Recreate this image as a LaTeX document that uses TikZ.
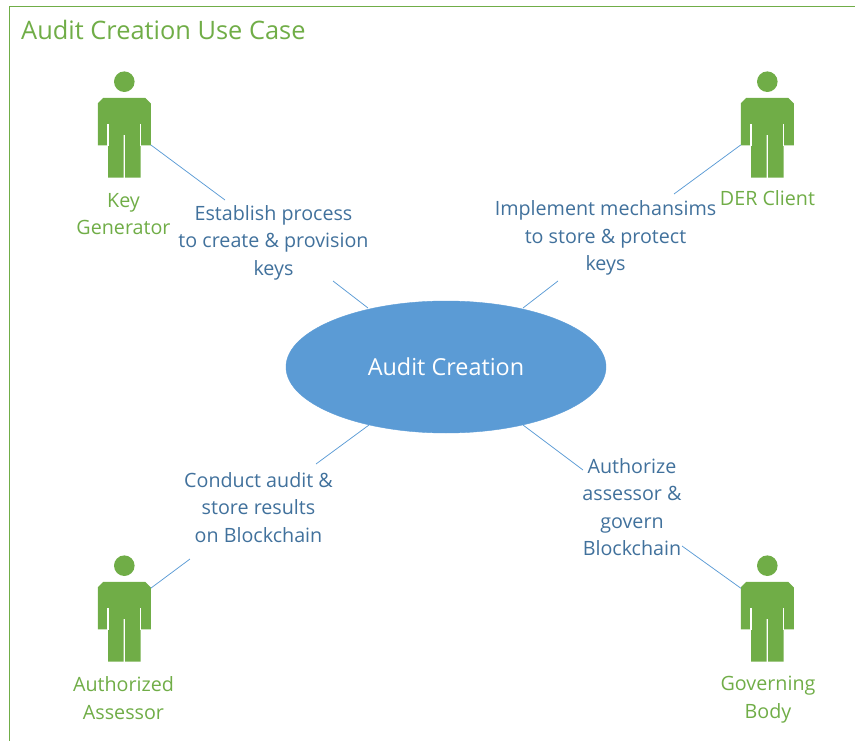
\documentclass[tikz,border=0pt]{standalone}
\usepackage{fontspec}
\setmainfont{Open Sans}
\usetikzlibrary{shapes.geometric}
\definecolor{frameG}{HTML}{70AD47}
\definecolor{txtB}{HTML}{41719C}
\definecolor{lineB}{HTML}{5B9BD5}
\tikzset{
  x=1pt,y=-1pt,
  conn/.style={draw=lineB,line width=0.75pt},
  lbl/.style={text=txtB,font=\fontsize{19.7}{27.4}\selectfont,align=center,inner sep=0pt},
  actorlbl/.style={text=frameG,font=\fontsize{19.7}{27.8}\selectfont,align=center,inner sep=0pt},
  usecase/.style={ellipse,fill=lineB,draw=lineB,minimum width=320pt,minimum height=132pt,inner sep=0pt,text=white,font=\fontsize{23.4}{28}\selectfont},
}
\newcommand{\actorshape}[3]{% name, cx, top of head y
  \begin{scope}[shift={(#2,#3)}]
    \fill[frameG] (0,10.3) circle (10.3);
    \fill[frameG] (-21,26.5)--(21,26.5)--(26.5,32)--(26.5,74)--(16.2,74)--(16.2,106.3)--(0.7,106.3)--(0.7,63.5)--(-0.7,63.5)--(-0.7,106.3)--(-16.2,106.3)--(-16.2,74)--(-26.5,74)--(-26.5,32)--cycle;
    \draw[white,line width=1.3pt] (-16.2,52.5)--(-16.2,74.5) (16.2,52.5)--(16.2,74.5);
    \coordinate (#1-l) at (-26.5,73.5);
    \coordinate (#1-r) at (26.5,73.5);
    \coordinate (#1-ls) at (-26.5,32.8);
    \coordinate (#1-rs) at (26.5,32.8);
  \end{scope}}
\begin{document}
\begin{tikzpicture}
\useasboundingbox (0,0) rectangle (855,741);
\draw[frameG,line width=1pt] (9.5,741)--(9.5,7)--(855,7);
\node[anchor=west,text=frameG,inner sep=0pt,font=\fontsize{25.4}{30}\selectfont] (title) at (21,30) {Audit Creation Use Case};
\actorshape{kg}{124.3}{71.4}
\actorshape{der}{767.3}{71.4}
\actorshape{aa}{124.3}{555.4}
\actorshape{gb}{767.3}{555.4}
\node[usecase] (uc) at (446,367) {Audit Creation};
\node[actorlbl] (kgl) at (123.5,214) {Key\\Generator};
\node[actorlbl] (derl) at (767.5,198) {DER Client};
\node[actorlbl] (aal) at (123.5,698) {Authorized\\Assessor};
\node[actorlbl] (gbl) at (768,700) {Governing\\Body};
\node[lbl] (e1) at (273.5,242.5) {Establish process\\to create \& provision\\keys};
\node[lbl] (e2) at (605.5,238) {Implement mechansims\\to store \& protect\\keys};
\node[lbl] (e3) at (258.5,507.5) {Conduct audit \&\\store results\\on Blockchain};
\node[lbl] (e4) at (632,507) {Authorize\\assessor \&\\govern\\Blockchain};
\coordinate (p1) at (225,200);
\coordinate (p2) at (333,281);
\coordinate (p3) at (368,308);
\coordinate (q1) at (674,194);
\coordinate (q2) at (523,308);
\coordinate (q3) at (558,281);
\coordinate (r1) at (369,425);
\coordinate (r3) at (316,464);
\coordinate (r4) at (190,559);
\coordinate (s1) at (523,425);
\coordinate (s2) at (583,470);
\coordinate (s3) at (682,546);
\draw[conn] (kg-r) -- (p1);
\draw[conn] (p2) -- (p3);
\draw[conn] (der-l) -- (q1);
\draw[conn] (q3) -- (q2);
\draw[conn] (r1) -- (r3);
\draw[conn] (aa-rs) -- (r4);
\draw[conn] (s1) -- (s2);
\draw[conn] (s3) -- (gb-ls);
\end{tikzpicture}
\end{document}
